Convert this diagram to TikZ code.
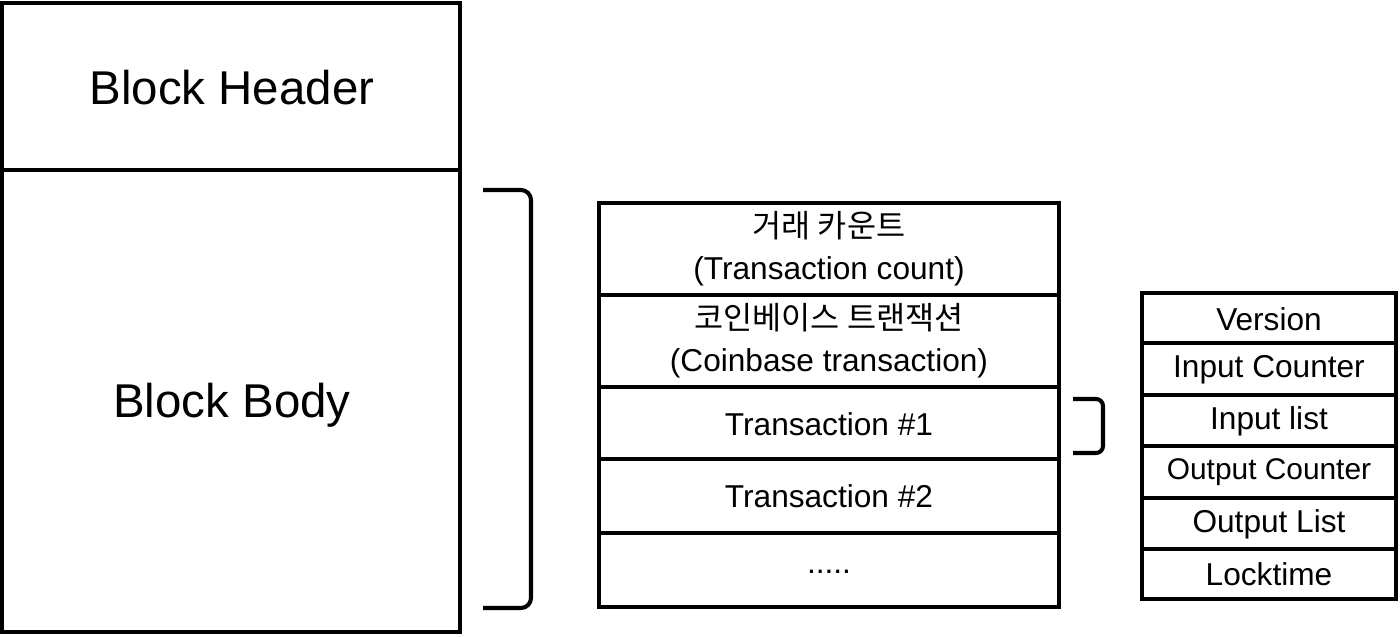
\documentclass[tikz,border=0pt]{standalone}
\usepackage{fontspec}
\setmainfont{Liberation Sans}
\newfontfamily\kofont{Noto Sans CJK KR}
\begin{document}
\begin{tikzpicture}[x=0.02cm,y=-0.02cm,line width=2.3pt]
\tikzset{big/.style={font=\fontsize{27}{32}\selectfont},
  mid/.style={font=\fontsize{18}{24}\selectfont,align=center},
  sml/.style={font=\fontsize{17}{20}\selectfont}}
\useasboundingbox (0,0) rectangle (1400,636);
% block
\draw (2,3) rectangle (460,632);
\draw (2,170) -- (460,170);
\node[big] (hdr) at (232,88) {Block Header};
\node[big] (body) at (232,405) {Block Body};
% brace
\draw (483,190) -- (521,190) to[out=0,in=90] (531,200) -- (531,598) to[out=-90,in=0] (521,608) -- (483,608);
% transactions
\draw (599,203) rectangle (1059,607);
\foreach \y in {295,387,459,533} \draw (599,\y) -- (1059,\y);
\node[mid] (cnt) at (829,249) {{\kofont 거래 카운트}\\(Transaction count)};
\node[mid] (cb) at (829,341) {{\kofont 코인베이스 트랜잭션}\\(Coinbase transaction)};
\node[mid] (tx1) at (829,424) {Transaction \#1};
\node[mid] (tx2) at (829,496) {Transaction \#2};
\node[mid] (dots) at (829,572) {.....};
% small brace
\draw (1073,399) -- (1096,399) to[out=0,in=90] (1103,406) -- (1103,446) to[out=-90,in=0] (1096,453) -- (1073,453);
% fields
\draw (1142,293) rectangle (1396,599);
\foreach \y in {343,395,446,498,549} \draw (1142,\y) -- (1396,\y);
\node[mid] (ver) at (1269,319) {Version};
\node[mid] (ic) at (1269,370) {Input Counter};
\node[mid] (il) at (1269,421) {Input list};
\node[sml] (oc) at (1269,472) {Output Counter};
\node[mid] (ol) at (1269,524) {Output List};
\node[mid] (lt) at (1269,574) {Locktime};
\end{tikzpicture}
\end{document}
